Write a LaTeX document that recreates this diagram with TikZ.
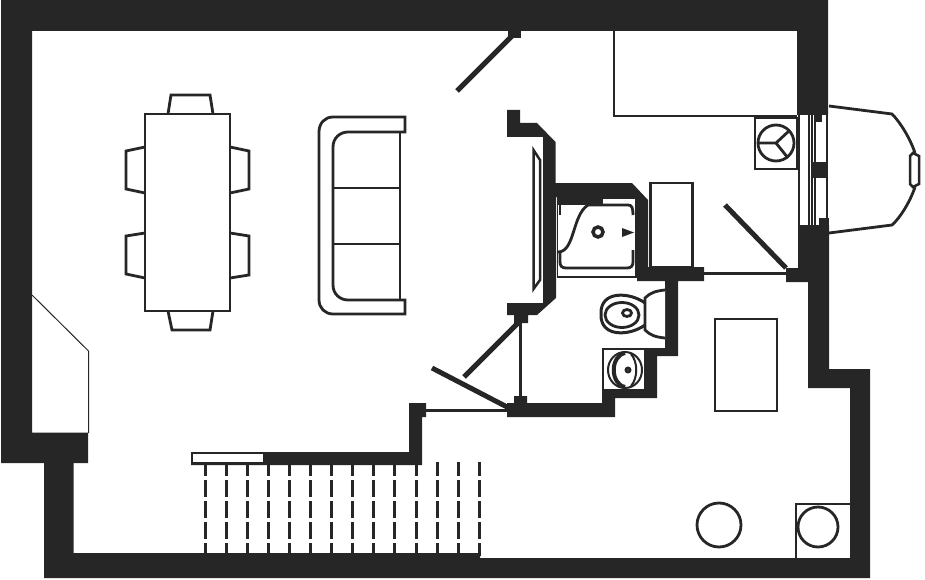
\documentclass[tikz,border=0pt]{standalone}
\usepackage{amsmath}
\usepackage{amssymb}
\definecolor{walldark}{HTML}{262626}
\begin{document}
\begin{tikzpicture}[x=1pt,y=-1pt,
  wall/.style={fill=walldark,draw=none},
  thin line/.style={draw=walldark,line width=1pt},
  furn/.style={draw=walldark,line width=2.8pt,line join=miter},
  leaf/.style={draw=walldark,line width=5pt},
  tread/.style={draw=walldark,line width=3pt,dash pattern=on 16.5pt off 4.5pt,dash phase=3pt}]
\useasboundingbox (0,0) rectangle (925,580);
\foreach \tx in {205,226,247,268,289,310.5,331,352,373,394,416,437,458,479}
  \draw[tread] (\tx,462) -- (\tx,556);
\fill[wall,even odd rule] (1,0) -- (828,0) -- (828,115) -- (797,115) -- (797,31) -- (32,31) -- (32,432.5)
  -- (88,432.5) -- (88,463) -- (73.5,463) -- (73.5,553) -- (480,553) -- (480,558) -- (850,558) -- (850,388)
  -- (808,388) -- (808,282) -- (786,282) -- (786,268) -- (798,268) -- (798,225) -- (829,225) -- (829,369)
  -- (870,369) -- (870,578) -- (44,578) -- (44,463) -- (1,463) -- cycle;
\fill[wall] (507,110) -- (520,110) -- (520,123) -- (537,123) -- (555.5,142) -- (555.5,183) -- (632,183)
  -- (648,200) -- (648,267) -- (704,267) -- (704,281) -- (678,281) -- (678,356) -- (657,356) -- (657,398)
  -- (615,398) -- (615,417) -- (507,417) -- (507,403) -- (514,403) -- (514,396) -- (527,396) -- (527,403)
  -- (602,403) -- (602,348) -- (665,348) -- (665,281) -- (637,281) -- (637,197) -- (556,197) -- (556,298)
  -- (537,315) -- (528,315) -- (528,323) -- (514,323) -- (514,315) -- (507,315) -- (507,303) -- (543,303)
  -- (543,137) -- (507,137) -- cycle;
\fill[wall] (409,403) -- (426,403) -- (426,417) -- (422,417) -- (422,465) -- (191,465) -- (191,452) -- (409,452) -- cycle;
\fill[white] (193,454) rectangle (263,462);
\fill[wall] (508,31) rectangle (521,38);
\draw[leaf] (457,91) -- (513,35);
\draw[leaf] (464,377) -- (520,321);
\draw[leaf] (432,368) -- (509,408);
\draw[leaf] (725,205) -- (786,268);
\draw[draw=walldark,line width=3pt] (520,323) -- (520,396);
\draw[draw=walldark,line width=3pt] (426,410) -- (507,410);
\draw[draw=walldark,line width=3pt] (704,273.5) -- (786,273.5);
\draw[furn] (614,31) -- (614,116) -- (797,116);
\draw[furn] (755,118) rectangle (797,169);
\draw[furn] (776,143) circle (18);
\draw[furn] (758,143) -- (776,143) -- (790,130);
\draw[furn] (776,143) -- (788,158);
\draw[furn] (650.5,183) rectangle (692.5,267);
\draw[draw=walldark,line width=2.5pt] (533.5,150) -- (540,160) -- (540,280) -- (533.5,289) -- cycle;
\draw[draw=walldark,line width=1.5pt,fill=white] (557.5,198) rectangle (636,277);
\fill[wall] (558,199) -- (603,199) -- (603,205) -- (558,205) -- cycle;
\draw[furn] (558,252) .. controls (575,252) and (572,215) .. (588,205) -- (603,205) -- (628,205)
  .. controls (632,205) and (633,208) .. (633,215);
\draw[furn] (633,250) -- (633,262) .. controls (633,266) and (631,268) .. (627,268) -- (566,268)
  .. controls (562,268) and (560,266) .. (560,262) -- (560,252);
\draw[furn] (560,205) -- (560,215);
\draw[draw=walldark,line width=3.5pt] (598,232) circle (5);
\fill[wall] (622,228) -- (634,232.5) -- (622,237) -- cycle;
\draw[furn] (799,115) -- (799,225);
\draw[draw=walldark,line width=2pt] (809,115) -- (809,225) (812,115) -- (812,225);
\draw[draw=walldark,line width=2.5pt] (815,115) -- (815,225) (827,115) -- (827,225);
\fill[wall] (815,115) rectangle (822,122);
\fill[wall] (813,162) rectangle (827,178);
\fill[wall] (819,218) rectangle (829,225);
\draw[furn] (829,106) -- (892,114) .. controls (900,122) and (910,138) .. (915,153);
\draw[furn] (915,187) .. controls (910,202) and (900,218) .. (892,225) -- (829,233);
\draw[furn,line width=2.5pt] (913,153) -- (919,156) -- (919,184) -- (913,187) -- (910,184) -- (910,156) -- cycle;
\draw[furn,fill=white] (665,290) .. controls (655,291) and (650,293) .. (645,298) -- (645,330)
  .. controls (650,335) and (655,337) .. (665,338);
\draw[furn,line width=3pt] (645,303) .. controls (630,292) and (600,290) .. (601,314) .. controls (600,338) and (630,336) .. (645,325);
\draw[furn] (622,315) ellipse (17 and 12.5);
\draw[furn,line width=2.8pt] (627,313) ellipse (4.5 and 3.5);
\draw[draw=walldark,line width=2pt,fill=white] (603,349) rectangle (645,390);
\draw[furn,line width=2pt] (625,370) ellipse (17 and 18);
\draw[furn,line width=4pt] (625,353) .. controls (610,356) and (610,384) .. (625,387);
\draw[furn,line width=2pt] (631,354) .. controls (638,362) and (638,378) .. (631,386);
\draw[furn] (628,370) circle (2);
\draw[furn] (145,114) rectangle (230,311);
\draw[furn] (168,114) -- (171,95) -- (210,95) -- (213,114);
\draw[furn] (168,311) -- (172,330) -- (210,330) -- (213,311);
\draw[furn] (145,147) -- (126,151) -- (126,189) -- (145,193);
\draw[furn] (145,233) -- (126,236) -- (126,274) -- (145,278);
\draw[furn] (230,147) -- (249,151) -- (249,189) -- (230,193);
\draw[furn] (230,233) -- (249,236) -- (249,275) -- (230,278);
\draw[furn] (405,117) -- (333,117) .. controls (325,117) and (319,123) .. (319,132) -- (319,300)
  .. controls (319,308) and (325,314) .. (333,314) -- (405,314) -- (405,300) -- (348,300)
  .. controls (340,300) and (333,294) .. (333,285) -- (333,147) .. controls (333,138) and (340,132) .. (348,132)
  -- (405,132) -- cycle;
\draw[furn] (400,132) -- (400,300);
\draw[furn] (333,188) -- (400,188);
\draw[furn] (333,244) -- (400,244);
\draw[furn] (715,319) rectangle (777,411);
\draw[furn] (719,525) circle (22);
\draw[furn] (796,558) -- (796,504) -- (850,504);
\draw[furn] (818,527) circle (20);
\draw[thin line] (32,295) -- (88.5,351) -- (88.5,433);
\end{tikzpicture}
\end{document}
